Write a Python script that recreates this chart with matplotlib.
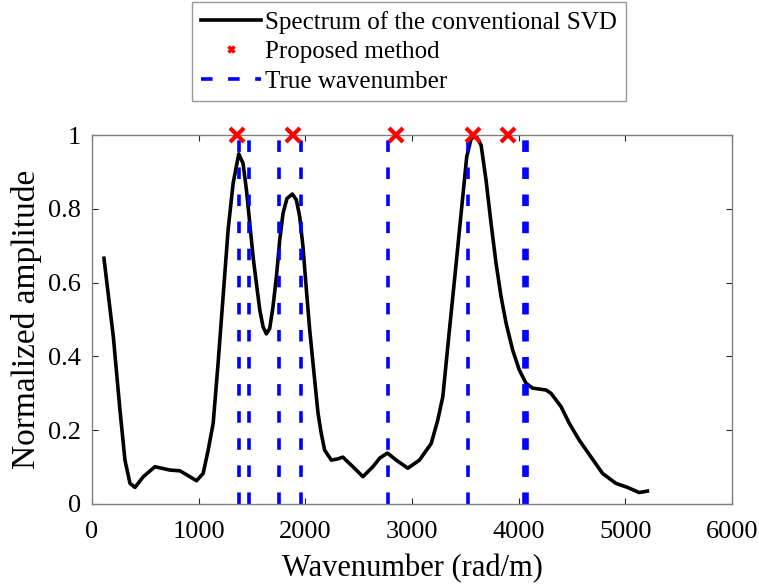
import matplotlib
matplotlib.use("Agg")
import matplotlib.pyplot as plt

plt.rcParams['font.family'] = ['Liberation Serif', 'DejaVu Serif']

# spectrum of the conventional SVD
wavenumber = [112, 200, 262, 309, 356, 403, 481, 590, 730, 824, 917, 980, 1042,
              1089, 1136, 1182, 1229, 1276, 1323, 1376, 1416, 1448, 1479, 1510,
              1541, 1573, 1604, 1635, 1666, 1697, 1729, 1760, 1791, 1828, 1878,
              1916, 1947, 1978, 2010, 2041, 2072, 2119, 2150, 2181, 2244, 2300,
              2352, 2446, 2540, 2633, 2700, 2770, 2852, 2961, 3070, 3180, 3242,
              3289, 3351, 3414, 3476, 3513, 3554, 3601, 3648, 3694, 3741, 3788,
              3835, 3882, 3944, 4006, 4069, 4131, 4256, 4303, 4397, 4474, 4568,
              4677, 4786, 4911, 5020, 5130, 5207]
amplitude = [0.666, 0.453, 0.255, 0.119, 0.056, 0.045, 0.074, 0.101, 0.092, 0.090,
             0.074, 0.063, 0.083, 0.146, 0.219, 0.381, 0.562, 0.743, 0.869, 0.949,
             0.923, 0.851, 0.761, 0.670, 0.598, 0.526, 0.480, 0.461, 0.476, 0.535,
             0.616, 0.715, 0.788, 0.828, 0.840, 0.824, 0.779, 0.697, 0.580, 0.472,
             0.381, 0.246, 0.190, 0.146, 0.119, 0.122, 0.127, 0.101, 0.074, 0.101,
             0.125, 0.138, 0.119, 0.097, 0.119, 0.164, 0.228, 0.291, 0.472, 0.652,
             0.833, 0.941, 0.990, 0.998, 0.972, 0.878, 0.761, 0.652, 0.562, 0.490,
             0.417, 0.363, 0.327, 0.314, 0.309, 0.300, 0.264, 0.219, 0.173, 0.128,
             0.083, 0.056, 0.045, 0.031, 0.035]

# proposed method estimates and true wavenumbers
proposed_k = [1364, 1884, 2846, 3569, 3897]
proposed_amp = [1, 1, 1, 1, 1]
true_k = [1376, 1472, 1750, 1956, 2777, 3522, 4050, 4080]

fig = plt.figure(figsize=(7.59, 5.87), dpi=100)
ax = fig.add_axes([92/759, 1-504/587, 640/759, 369/587])

ax.plot(wavenumber, amplitude, color='black', linewidth=2.6,
        solid_joinstyle='round', label='Spectrum of the conventional SVD')
ax.plot(proposed_k, proposed_amp, 'x', color='red', markersize=10,
        markeredgewidth=3, clip_on=False, zorder=5, label='Proposed method')
for i, k in enumerate(true_k):
    ax.axvline(k, color='blue', linewidth=2.6, linestyle=(0, (3.2, 4.3)),
               label='True wavenumber' if i == 0 else None)

ax.set_xlim(0, 6000)
ax.set_ylim(0, 1)
ax.set_xticks([0, 1000, 2000, 3000, 4000, 5000, 6000])
ax.set_yticks([0, 0.2, 0.4, 0.6, 0.8, 1])
ax.set_yticklabels(['0', '0.2', '0.4', '0.6', '0.8', '1'])
ax.tick_params(direction='in', top=True, right=True, length=4.5, width=0.8,
               color='#262626', labelsize=19)
ax.tick_params(axis='x', pad=12)
ax.tick_params(axis='y', pad=8)
for s in ax.spines.values():
    s.set_color('#808080')
    s.set_linewidth(1.0)

ax.set_xlabel('Wavenumber (rad/m)', fontsize=22, labelpad=8)
ax.set_ylabel('Normalized amplitude', fontsize=24, labelpad=4)

leg = fig.legend(loc='upper center', bbox_to_anchor=(409/759, 1-2/587),
                 fontsize=18, frameon=True, fancybox=False, handlelength=2.4,
                 handletextpad=0.15, labelspacing=0.28, borderpad=0.35,
                 borderaxespad=0)
leg.get_frame().set_edgecolor('#808080')
leg.get_frame().set_linewidth(1.0)
leg.legend_handles[1].set_markersize(5)
leg.legend_handles[1].set_markeredgewidth(2.5)

fig.savefig('out.png', dpi=100)
